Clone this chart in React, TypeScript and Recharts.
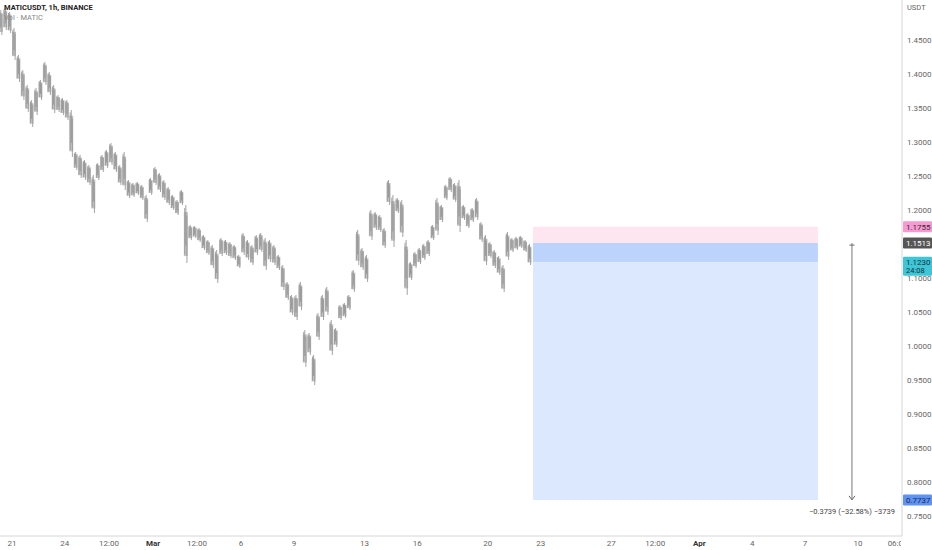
import React from 'react';
import {
  ComposedChart,
  Bar,
  XAxis,
  YAxis,
  ReferenceArea,
  ReferenceLine,
  ReferenceDot
} from 'recharts';

// hourly MATICUSDT, sampled as 6h high/low ranges (day 0 = Feb 21 00:00)
const START_DAY = -0.625;
const STEP_DAYS = 0.25;

const highs = [
  1.4941, 1.4970, 1.4912, 1.4676, 1.4279, 1.4059, 1.3838, 1.3618, 1.3794, 1.3912,
  1.4176, 1.4029, 1.3838, 1.3691, 1.3647, 1.3618, 1.3470, 1.2853, 1.2809, 1.2735,
  1.2662, 1.2515, 1.2691, 1.2809, 1.2882, 1.2985, 1.2853, 1.2662, 1.2853, 1.2441,
  1.2397, 1.2412, 1.2368, 1.2221, 1.2471, 1.2632, 1.2544, 1.2441, 1.2338, 1.2221,
  1.2147, 1.2294, 1.2073, 1.1779, 1.1764, 1.1735, 1.1632, 1.1559, 1.1485, 1.1412,
  1.1588, 1.1559, 1.1529, 1.1485, 1.1338, 1.1662, 1.1559, 1.1485, 1.1632, 1.1662,
  1.1588, 1.1559, 1.1485, 1.1338, 1.1191, 1.0941, 1.0750, 1.0750, 1.0941, 1.0235,
  1.0191, 0.9868, 1.0485, 1.0750, 1.0868, 1.0382, 1.0264, 1.0603, 1.0632, 1.0750,
  1.1118, 1.1706, 1.1441, 1.1338, 1.2000, 1.1970, 1.1926, 1.1735, 1.2441, 1.2221,
  1.2176, 1.2147, 1.1559, 1.1235, 1.1382, 1.1441, 1.1500, 1.1559, 1.1779, 1.2176,
  1.2073, 1.2368, 1.2485, 1.2397, 1.2441, 1.2073, 1.1956, 1.2029, 1.2176, 1.1823,
  1.1632, 1.1529, 1.1412, 1.1323, 1.1191, 1.1676, 1.1588, 1.1603, 1.1618, 1.1559,
  1.1500
];

const lows = [
  1.4573, 1.4647, 1.4603, 1.4206, 1.3882, 1.3618, 1.3441, 1.3220, 1.3397, 1.3618,
  1.3838, 1.3691, 1.3426, 1.3441, 1.3397, 1.3323, 1.2779, 1.2588, 1.2471, 1.2441,
  1.2368, 1.1956, 1.2441, 1.2559, 1.2618, 1.2662, 1.2559, 1.2368, 1.2294, 1.2176,
  1.2191, 1.2221, 1.2147, 1.1823, 1.2221, 1.2368, 1.2265, 1.2147, 1.2073, 1.2000,
  1.1926, 1.2073, 1.1220, 1.1559, 1.1588, 1.1529, 1.1412, 1.1338, 1.1147, 1.0926,
  1.1323, 1.1338, 1.1294, 1.1265, 1.1147, 1.1338, 1.1265, 1.1191, 1.1338, 1.1382,
  1.1118, 1.1235, 1.1191, 1.1118, 1.0823, 1.0676, 1.0456, 1.0382, 1.0529, 0.9691,
  0.9868, 0.9426, 1.0088, 1.0382, 1.0456, 0.9868, 0.9985, 1.0382, 1.0412, 1.0529,
  1.0794, 1.1191, 1.1118, 1.0941, 1.1559, 1.1706, 1.1676, 1.1441, 1.2073, 1.1456,
  1.1956, 1.1603, 1.0750, 1.0971, 1.1147, 1.1206, 1.1265, 1.1323, 1.1559, 1.1632,
  1.1823, 1.2147, 1.2265, 1.2118, 1.1676, 1.1853, 1.1735, 1.1823, 1.1853, 1.1529,
  1.1191, 1.1294, 1.1147, 1.1044, 1.0794, 1.1265, 1.1382, 1.1412, 1.1441, 1.1382,
  1.1191
];

const tickDays = [0, 3, 5.5, 8, 10.5, 13, 16, 20, 23, 27, 30, 34, 36.5, 39, 42, 45, 48, 50.25];
const tickLabels = ['21', '24', '12:00', 'Mar', '12:00', '6', '9', '13', '16', '20', '23', '27', '12:00', 'Apr', '4', '7', '10', '06:00'];
const boldLabels = ['Mar', 'Apr'];

const priceTicks = [0.75, 0.8, 0.85, 0.9, 0.95, 1.0, 1.05, 1.1, 1.2, 1.25, 1.3, 1.35, 1.4, 1.45];

// short position tool
const stopPrice = 1.1755;
const entryPrice = 1.1513;
const lastPrice = 1.123;
const targetPrice = 0.7737;
const boxStartDay = 29.56;
const boxEndDay = 45.73;
const measureDay = 47.66;
const measureText = '\u22120.3739 (\u221232.58%) \u22123739';
const countdown = '24:08';

const X_DOMAIN = [-0.681, 50.5];
const Y_DOMAIN = [0.7206, 1.5088];
const FONT = 'Roboto, sans-serif';

const data = highs.map((h, i) => ({
  day: START_DAY + i * STEP_DAYS,
  range: [lows[i], h]
}));

// a 6h range drawn like a cluster of thin hourly candles
const CandleRange = (props: any) => {
  const { x, y, width, height } = props;
  if (height == null || isNaN(y)) return null;
  const cx = x + width / 2;
  return (
    <g>
      <rect x={cx - 2} y={y + height * 0.12} width={4} height={height * 0.76} fill="#c2c2c2" />
      <line x1={cx - 1.1} x2={cx - 1.1} y1={y + height * 0.05} y2={y + height * 0.85} stroke="#9a9a9a" strokeWidth={0.9} />
      <line x1={cx + 1.1} x2={cx + 1.1} y1={y + height * 0.18} y2={y + height} stroke="#9a9a9a" strokeWidth={0.9} />
      <line x1={cx} x2={cx} y1={y} y2={y + height * 0.7} stroke="#8c8c8c" strokeWidth={0.8} />
    </g>
  );
};

const XTick = (props: any) => {
  const { x, payload } = props;
  const idx = tickDays.indexOf(payload.value);
  const label = tickLabels[idx];
  const bold = boldLabels.includes(label);
  return (
    <g>
      <defs>
        <clipPath id="xtick-clip">
          <rect x={0} y={530} width={901} height={20} />
        </clipPath>
      </defs>
      <text
        x={x}
        y={546}
        textAnchor="middle"
        fontSize={8}
        fontFamily={FONT}
        fontWeight={bold ? 700 : 400}
        fill={bold ? '#333' : '#666'}
        clipPath="url(#xtick-clip)"
      >
        {label}
      </text>
    </g>
  );
};

const YTick = (props: any) => {
  const { y, payload } = props;
  return (
    <text x={907} y={y + 3} fontSize={8} fontFamily={FONT} fill="#666">
      {payload.value.toFixed(4)}
    </text>
  );
};

const priceTag = (bg: string, color: string, text: string, sub?: string) => (props: any) => {
  const { cy } = props;
  const h = sub ? 19 : 11;
  const top = cy - 5.5;
  return (
    <g>
      <rect x={903} y={top} width={29} height={h} fill={bg} rx={1} />
      <text x={906} y={cy + 3} fontSize={8} fontFamily={FONT} fill={color}>
        {text}
      </text>
      {sub && (
        <text x={906} y={cy + 11} fontSize={7.5} fontFamily={FONT} fill={color}>
          {sub}
        </text>
      )}
    </g>
  );
};

const MeasureTop = (props: any) => {
  const { cx, cy } = props;
  return <line x1={cx - 2.5} x2={cx + 2.5} y1={cy + 2} y2={cy + 2} stroke="#666" strokeWidth={1} />;
};

const MeasureBottom = (props: any) => {
  const { cx, cy } = props;
  return (
    <g>
      <path d={`M${cx - 3},${cy - 4} L${cx},${cy} L${cx + 3},${cy - 4}`} fill="none" stroke="#666" strokeWidth={1} />
      <text x={cx} y={cy + 14} textAnchor="middle" fontSize={7.5} fontFamily={FONT} fill="#444">
        {measureText}
      </text>
    </g>
  );
};

const App: React.FC = () => {
  return (
    <div style={{ position: 'absolute', left: 0, top: 0, width: 932, height: 550, background: '#fff' }}>
      <ComposedChart width={932} height={550} data={data} margin={{ top: 0, right: 0, left: 0, bottom: 0 }}>
        <XAxis
          dataKey="day"
          type="number"
          domain={X_DOMAIN}
          allowDataOverflow
          ticks={tickDays}
          interval={0}
          tick={<XTick />}
          tickLine={false}
          axisLine={{ stroke: '#d6d6d6' }}
          height={14}
        />
        <YAxis
          orientation="right"
          type="number"
          domain={Y_DOMAIN}
          allowDataOverflow
          ticks={priceTicks}
          interval={0}
          tick={<YTick />}
          tickLine={false}
          axisLine={{ stroke: '#d6d6d6' }}
          width={30}
        />
        <ReferenceArea x1={boxStartDay} x2={boxEndDay} y1={entryPrice} y2={stopPrice} fill="#fde6ef" fillOpacity={1} stroke="none" />
        <ReferenceArea x1={boxStartDay} x2={boxEndDay} y1={lastPrice} y2={entryPrice} fill="#bcd4fb" fillOpacity={1} stroke="none" />
        <ReferenceArea x1={boxStartDay} x2={boxEndDay} y1={targetPrice} y2={lastPrice} fill="#dce8fd" fillOpacity={1} stroke="none" />
        <Bar dataKey="range" fill="#9c9c9c" barSize={4} shape={<CandleRange />} isAnimationActive={false} />
        <ReferenceLine
          segment={[{ x: measureDay, y: entryPrice }, { x: measureDay, y: targetPrice }]}
          stroke="#777"
          strokeWidth={1}
        />
        <ReferenceDot x={measureDay} y={entryPrice} ifOverflow="visible" shape={<MeasureTop />} />
        <ReferenceDot x={measureDay} y={targetPrice} ifOverflow="visible" shape={<MeasureBottom />} />
        <ReferenceDot x={X_DOMAIN[1]} y={stopPrice} ifOverflow="visible" shape={priceTag('#f59bd2', '#3a2a35', stopPrice.toFixed(4))} />
        <ReferenceDot x={X_DOMAIN[1]} y={entryPrice} ifOverflow="visible" shape={priceTag('#555555', '#ffffff', entryPrice.toFixed(4))} />
        <ReferenceDot x={X_DOMAIN[1]} y={lastPrice} ifOverflow="visible" shape={priceTag('#3ec5d6', '#14333d', lastPrice.toFixed(4), countdown)} />
        <ReferenceDot x={X_DOMAIN[1]} y={targetPrice} ifOverflow="visible" shape={priceTag('#5f93f0', '#17285c', targetPrice.toFixed(4))} />
      </ComposedChart>
      <div style={{ position: 'absolute', left: 4, top: 3, fontFamily: FONT, fontSize: 7.5, fontWeight: 700, color: '#222', lineHeight: '9px' }}>
        MATICUSDT, 1h, BINANCE
      </div>
      <div style={{ position: 'absolute', left: 4, top: 13, fontFamily: FONT, fontSize: 7.5, color: '#888', lineHeight: '9px' }}>
        Vol · MATIC
      </div>
      <div style={{ position: 'absolute', left: 907, top: 3, fontFamily: FONT, fontSize: 7.5, color: '#666', lineHeight: '9px' }}>
        USDT
      </div>
    </div>
  );
};

export default App;
